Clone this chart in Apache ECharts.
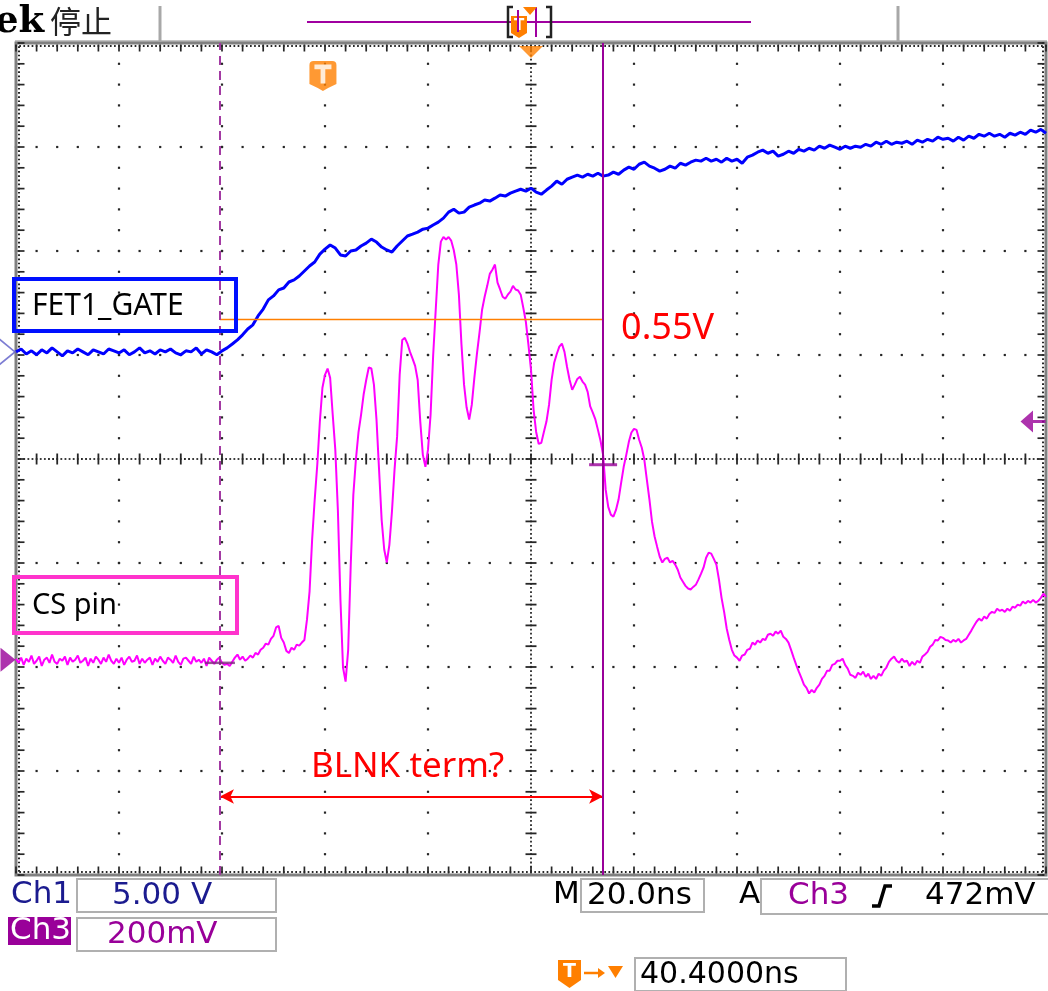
<!DOCTYPE html>
<html><head><meta charset="utf-8">
<script src="https://cdn.jsdelivr.net/npm/echarts@6/dist/echarts.min.js"></script>
<style>html,body{margin:0;padding:0;background:#fff;overflow:hidden}#c{width:1048px;height:991px}</style>
</head><body><div id="c"></div>
<script>
// ---------------- scope settings ----------------
const timePerDivNs = 20;
const horizDivs = 10;
const vertDivs = 8;
const screenStartNs = -100;          // left edge, relative to the expansion point (screen centre)
const triggerTimeNs = -40.4;
const ch1VoltsPerDiv = 5;
const ch3MvPerDiv = 200;
const ch1PositionDiv = 1.03;
const ch3PositionDiv = -1.93;
const triggerLevelMv = 472;
const triggerMarkerMv = 458;
const cursorTimesNs = [-60.4, 14.0];
const cursorLevelsMv = [-6, 375];
const thresholdMv = 654;
const thresholdLabel = '0.55V';
const blankArrowMv = -263;
const blankLabel = 'BLNK term?';
const traceLabels = ['FET1_GATE', 'CS pin'];
const ch1SampleStepNs = 1.0;
const ch3SampleStepNs = 0.5;

// CH1 (FET1_GATE), volts, one sample per 1 ns from the left edge
const ch1Volts = [
 0, 0.14, -0.10, 0.05, -0.14, 0.10, -0.05, 0.19, 0, -0.19,
 0.05, -0.05, 0.14, 0, -0.14, 0.10, 0, -0.10, 0.14, 0.05,
 -0.05, 0.10, -0.14, 0, 0.19, -0.05, 0.05, -0.10, 0.10, 0,
 0.14, -0.05, -0.14, 0.05, 0, 0.19, -0.10, 0.10, 0, -0.14,
 0.05, 0.19, 0.38, 0.58, 0.82, 1.10, 1.30, 1.73, 2.06, 2.50,
 2.69, 2.98, 3.07, 3.36, 3.46, 3.65, 3.89, 4.13, 4.32, 4.70,
 4.94, 5.14, 4.99, 4.66, 4.61, 4.85, 4.90, 5.09, 5.23, 5.42,
 5.28, 5.04, 4.90, 4.80, 5.09, 5.33, 5.57, 5.66, 5.76, 5.90,
 5.95, 6.10, 6.24, 6.43, 6.72, 6.86, 6.67, 6.72, 6.96, 7.06,
 7.15, 7.30, 7.25, 7.39, 7.54, 7.49, 7.63, 7.73, 7.82, 7.73,
 7.87, 7.68, 7.58, 7.78, 7.97, 8.21, 8.06, 8.30, 8.40, 8.50,
 8.40, 8.54, 8.45, 8.59, 8.45, 8.50, 8.64, 8.54, 8.74, 8.88,
 8.78, 9.02, 9.12, 8.93, 8.83, 8.69, 8.78, 8.93, 8.83, 9.07,
 8.98, 9.12, 9.22, 9.17, 9.31, 9.17, 9.26, 9.12, 9.31, 9.17,
 9.26, 9.07, 9.36, 9.46, 9.60, 9.70, 9.55, 9.65, 9.41, 9.50,
 9.65, 9.55, 9.74, 9.65, 9.79, 9.70, 9.89, 9.79, 9.94, 9.84,
 9.74, 9.89, 9.79, 9.89, 9.84, 9.98, 9.89, 10.08, 9.98, 10.13,
 9.98, 10.08, 10.03, 10.13, 9.98, 10.18, 10.08, 10.22, 10.13, 10.32,
 10.22, 10.27, 10.13, 10.32, 10.18, 10.37, 10.27, 10.46, 10.37, 10.51,
 10.37, 10.46, 10.32, 10.51, 10.42, 10.56, 10.46, 10.66, 10.56, 10.70,
 10.51
];

// CH3 (CS pin), millivolts, one sample per 0.5 ns from the left edge
const ch3Millivolts = [
 2, -6, 4, -10, 2, -4, 8, -8, -2, 6,
 -12, 0, 4, -6, 10, -4, -8, 2, -2, 6,
 -10, 4, -4, 0, 8, -6, -2, 4, -12, 2,
 -6, 6, 0, -8, 4, -4, 10, -2, -8, 2,
 -6, 4, -10, 0, 6, -4, -2, 8, -8, 2,
 -6, 0, 4, -10, 2, -4, 6, -2, -8, 4,
 0, -6, 8, -4, -10, 2, 4, -2, -8, 6,
 -4, 0, -6, 2, -12, 4, -2, -8, 0, 4,
 -6, -10, -8, -12, -4, 4, 10, 0, 6, -2,
 2, 8, 4, 13, 10, 19, 23, 31, 29, 40,
 46, 62, 65, 42, 33, 17, 13, 23, 19, 29,
 27, 33, 38, 77, 131, 231, 308, 375, 458, 523,
 548, 560, 542, 471, 404, 288, 115, -15, -42, 19,
 183, 317, 385, 437, 471, 510, 538, 562, 560, 529,
 462, 365, 269, 212, 187, 221, 285, 365, 429, 548,
 615, 619, 608, 592, 579, 565, 538, 458, 394, 371,
 404, 471, 585, 673, 760, 804, 813, 808, 813, 806,
 788, 760, 702, 606, 529, 485, 462, 490, 542, 588,
 629, 673, 698, 719, 742, 750, 760, 725, 712, 698,
 694, 702, 708, 719, 712, 710, 702, 677, 650, 606,
 558, 481, 438, 415, 417, 438, 458, 490, 538, 571,
 588, 602, 608, 592, 563, 538, 519, 529, 540, 544,
 535, 529, 515, 487, 475, 462, 442, 421, 394, 327,
 294, 279, 275, 288, 308, 340, 371, 394, 419, 437,
 444, 442, 423, 408, 385, 346, 308, 265, 237, 217,
 198, 187, 194, 196, 187, 190, 183, 173, 158, 150,
 142, 137, 135, 140, 144, 154, 165, 177, 196, 206,
 204, 194, 183, 154, 119, 92, 60, 38, 19, 8,
 4, -2, 8, 10, 19, 21, 33, 29, 37, 33,
 40, 38, 48, 50, 46, 54, 50, 56, 44, 40,
 33, 19, 4, -10, -23, -35, -48, -54, -65, -58,
 -63, -54, -48, -37, -31, -21, -21, -10, -8, -2,
 -2, 2, -10, -17, -29, -31, -35, -25, -29, -23,
 -33, -27, -37, -31, -37, -27, -31, -21, -15, -4,
 2, 6, -2, -6, 2, -4, -2, -12, -4, -10,
 -2, -6, 6, 10, 15, 25, 29, 38, 37, 44,
 42, 38, 37, 33, 38, 35, 40, 33, 37, 40,
 48, 56, 65, 73, 79, 75, 83, 79, 88, 92,
 90, 98, 94, 96, 92, 98, 94, 102, 100, 106,
 104, 112, 108, 113, 110, 115, 110, 113, 119, 127,
 121
];

// ---------------- styling ----------------
const BLUE = '#0000ff', MAGENTA = '#ff00ff', PURPLE = '#990099', ORANGE = '#ff7f00', NAVY = '#1b1b8f', RED = '#ff0000';
const READ_FONT = '"DejaVu Sans", sans-serif';
const NOTE_FONT = '"Noto Sans", "Open Sans", sans-serif';
const tMax = screenStartNs + horizDivs * timePerDivNs;
const halfV = vertDivs / 2;

function renderGraticule(params, api) {
  const ch = [];
  const dot = (x, y, w, h, fill) => ch.push({type: 'rect', shape: {x: x - w / 2, y: y - h / 2, width: w, height: h}, style: {fill: fill || '#262626'}});
  const P = (t, d) => api.coord([t, d]);
  const minorT = timePerDivNs / 5, minorD = 0.2;
  for (let k = 1; k < horizDivs; k++) {
    const t = screenStartNs + k * timePerDivNs;
    if (Math.abs(t) < 1e-9) continue;
    for (let m = 0; m <= vertDivs * 5; m++) { const p = P(t, -halfV + m * minorD); dot(p[0], p[1], 2.2, 2.2); }
  }
  for (let k = 1; k < vertDivs; k++) {
    const d = -halfV + k;
    if (d === 0) continue;
    for (let m = 0; m <= horizDivs * 5; m++) { const p = P(screenStartNs + m * minorT, d); dot(p[0], p[1], 2.2, 2.2); }
  }
  // centre cross: dense dots + cross ticks
  for (let m = 0; m <= vertDivs * 25; m++) { const p = P(0, -halfV + m * 0.04); dot(p[0], p[1], 1.8, 1.8); }
  for (let m = 0; m <= vertDivs * 5; m++) { const p = P(0, -halfV + m * minorD); dot(p[0], p[1], 11, 1.8); }
  for (let m = 0; m <= horizDivs * 25; m++) { const p = P(screenStartNs + m * minorT / 5, 0); dot(p[0], p[1], 1.8, 1.8); }
  for (let m = 0; m <= horizDivs * 5; m++) { const p = P(screenStartNs + m * minorT, 0); dot(p[0], p[1], 1.8, 11); }
  // frame
  const a = P(screenStartNs, halfV), b = P(tMax, -halfV);
  ch.push({type: 'rect', shape: {x: a[0] - 1, y: a[1] - 3, width: b[0] - a[0] + 2, height: 3}, style: {fill: '#c4c4c4'}});
  ch.push({type: 'rect', shape: {x: a[0], y: a[1], width: b[0] - a[0], height: b[1] - a[1]}, style: {fill: 'transparent', stroke: '#808080', lineWidth: 3}});
  for (let m = 0; m <= horizDivs * 25; m++) { const x = P(screenStartNs + m * minorT / 5, 0)[0]; dot(x, a[1] + 3, 1.7, 2); dot(x, b[1] - 3, 1.7, 2); }
  for (let m = 0; m <= horizDivs * 5; m++) { const x = P(screenStartNs + m * minorT, 0)[0]; dot(x, a[1] + 5, 1.7, 7); dot(x, b[1] - 5, 1.7, 7); }
  for (let m = 0; m <= vertDivs * 25; m++) { const y = P(0, -halfV + m * 0.04)[1]; dot(a[0] + 3, y, 2, 1.7); dot(b[0] - 3, y, 2, 1.7); }
  for (let m = 0; m <= vertDivs * 5; m++) { const y = P(0, -halfV + m * minorD)[1]; dot(a[0] + 5, y, 7, 1.7); dot(b[0] - 5, y, 7, 1.7); }
  return {type: 'group', children: ch};
}

const txt = (text, x, y, color, size, family, weight, align) => ({
  type: 'text', x: x, y: y, silent: true, z: 20,
  style: {text: text, fill: color, fontSize: size, fontFamily: family, fontWeight: weight || 'normal',
    textAlign: align || 'left', textVerticalAlign: 'middle', verticalAlign: 'middle'}
});
const box = (x, y, w, h, stroke, lw, fill) => ({
  type: 'rect', silent: true, z: 19, shape: {x: x, y: y, width: w, height: h},
  style: {fill: fill || 'transparent', stroke: stroke, lineWidth: lw}
});
const line = (pts, color, lw) => ({type: 'polyline', silent: true, z: 20, shape: {points: pts}, style: {stroke: color, lineWidth: lw, fill: null}});
const poly = (pts, color) => ({type: 'polygon', silent: true, z: 20, shape: {points: pts}, style: {fill: color}});

const chart = echarts.init(document.getElementById('c'), null, {renderer: 'canvas'});
const option = {
  animation: false,
  backgroundColor: '#ffffff',
  grid: {left: 16, top: 43, width: 1030, height: 832, show: false},
  xAxis: [{type: 'value', min: screenStartNs, max: tMax, show: false}],
  yAxis: [
    {type: 'value', min: -halfV, max: halfV, show: false},
    {type: 'value', min: (-halfV - ch1PositionDiv) * ch1VoltsPerDiv, max: (halfV - ch1PositionDiv) * ch1VoltsPerDiv, show: false},
    {type: 'value', min: (-halfV - ch3PositionDiv) * ch3MvPerDiv, max: (halfV - ch3PositionDiv) * ch3MvPerDiv, show: false}
  ],
  series: [
    {type: 'custom', name: 'graticule', coordinateSystem: 'cartesian2d', xAxisIndex: 0, yAxisIndex: 0,
      data: [[0, 0]], renderItem: renderGraticule, silent: true, clip: false, z: 1},
    {type: 'line', name: 'CH3', xAxisIndex: 0, yAxisIndex: 2,
      data: ch3Millivolts.map((v, j) => [screenStartNs + j * ch3SampleStepNs, v]),
      showSymbol: false, symbol: 'none', silent: true, z: 3,
      lineStyle: {color: MAGENTA, width: 2}, itemStyle: {color: MAGENTA},
      markLine: {silent: true, animation: false, symbol: 'none', data: [
        [{coord: [cursorTimesNs[0], thresholdMv], itemStyle: {color: ORANGE}, lineStyle: {color: ORANGE, width: 1.3, type: 'solid', opacity: 1},
          label: {show: true, position: 'end', formatter: thresholdLabel, color: RED, fontSize: 36, fontFamily: NOTE_FONT, distance: 18, offset: [0, 9]}},
         {coord: [cursorTimesNs[1], thresholdMv]}],
        [{coord: [cursorTimesNs[0], blankArrowMv], symbol: 'arrow', symbolSize: [11, 14], itemStyle: {color: RED},
          lineStyle: {color: RED, width: 2, type: 'solid'},
          label: {show: true, position: 'insideMiddleTop', formatter: blankLabel, color: RED, fontSize: 35, fontFamily: NOTE_FONT, distance: 12, offset: [-4, 0]}},
         {coord: [cursorTimesNs[1], blankArrowMv], symbol: 'arrow', symbolSize: [11, 14]}]
      ]}
    },
    {type: 'line', name: 'CH1', xAxisIndex: 0, yAxisIndex: 1,
      data: ch1Volts.map((v, i) => [screenStartNs + i * ch1SampleStepNs, v]),
      showSymbol: false, symbol: 'none', silent: true, z: 4,
      lineStyle: {color: BLUE, width: 3}, itemStyle: {color: BLUE}},
    {type: 'scatter', name: 'cursors', xAxisIndex: 0, yAxisIndex: 2, z: 5, silent: true, clip: false,
      data: [
        {value: [cursorTimesNs[0], cursorLevelsMv[0]], itemStyle: {color: '#7a2a7a'}, symbolSize: [30, 2.5]},
        {value: [cursorTimesNs[1], cursorLevelsMv[1]], itemStyle: {color: PURPLE}, symbolSize: [28, 3]}
      ],
      symbol: 'rect',
      markLine: {silent: true, animation: false, symbol: 'none', label: {show: false}, data: [
        {xAxis: cursorTimesNs[0], lineStyle: {color: '#a33aa3', width: 2, type: [9, 6]}},
        {xAxis: cursorTimesNs[1], lineStyle: {color: PURPLE, width: 2, type: 'solid'}}
      ]}
    },
    {type: 'scatter', name: 'ch1-ground', xAxisIndex: 0, yAxisIndex: 1, z: 6, silent: true, clip: false,
      data: [[screenStartNs, 0]], symbol: 'path://M0,0 L12,11 L0,22 Z', symbolSize: [16, 26], symbolOffset: [-9, 0],
      itemStyle: {color: 'rgba(0,0,0,0)', borderColor: '#5c5cc8', borderWidth: 1.5}},
    {type: 'scatter', name: 'ch3-ground', xAxisIndex: 0, yAxisIndex: 2, z: 6, silent: true, clip: false,
      data: [[screenStartNs, 0]], symbol: 'path://M0,0 L12,11 L0,22 Z', symbolSize: [15, 24], symbolOffset: [-8, 0],
      itemStyle: {color: PURPLE}},
    {type: 'scatter', name: 'trigger-level', xAxisIndex: 0, yAxisIndex: 2, z: 6, silent: true, clip: false,
      data: [[tMax, triggerMarkerMv]], symbol: 'path://M0,11 L12,0 L12,9.5 L24,9.5 L24,12.5 L12,12.5 L12,22 Z',
      symbolSize: [25, 22], symbolOffset: [-13, 0], itemStyle: {color: PURPLE}},
    {type: 'scatter', name: 'trigger-pos', xAxisIndex: 0, yAxisIndex: 0, z: 6, silent: true, clip: false,
      data: [[triggerTimeNs, halfV]], symbol: 'path://M4,0 L22,0 Q26,0 26,4 L26,23 L18,27 L13,30 L8,27 L0,23 L0,4 Q0,0 4,0 Z',
      symbolSize: [27, 30], symbolOffset: [0, 33], itemStyle: {color: ORANGE}},
    {type: 'scatter', name: 'trigger-pos-letter', xAxisIndex: 0, yAxisIndex: 0, z: 7, silent: true, clip: false,
      data: [[triggerTimeNs, halfV]], symbol: 'path://M0,0 L18,0 L18,5 L11.5,5 L11.5,20 L6.5,20 L6.5,5 L0,5 Z',
      symbolSize: [17, 19], symbolOffset: [0, 31], itemStyle: {color: '#ffffff'}},
    {type: 'scatter', name: 'expansion-point', xAxisIndex: 0, yAxisIndex: 0, z: 6, silent: true, clip: false,
      data: [[0, halfV]], symbol: 'path://M0,0 L20,0 L10,10 Z', symbolSize: [24, 12], symbolOffset: [0, 9], itemStyle: {color: ORANGE}}
  ],
  graphic: [
    // header
    txt('ek', -5, 22, '#000000', 37, '"DejaVu Serif", serif', 'bold'),
    txt('停止', 50, 21, '#222222', 31, '"Noto Sans CJK SC", sans-serif'),
    line([[160, 6], [160, 42]], '#a8a8a8', 3),
    line([[898, 6], [898, 42]], '#a8a8a8', 3),
    line([[307, 22], [751, 22]], '#a000a0', 2),
    line([[513, 7], [508, 7], [508, 37], [513, 37]], '#222222', 2.5),
    line([[546, 7], [551, 7], [551, 37], [546, 37]], '#222222', 2.5),
    poly([[511, 16], [527, 16], [527, 33], [519, 38], [511, 33]], ORANGE),
    txt('T', 519, 26, '#ffffff', 15, READ_FONT, 'bold', 'center'),
    line([[518, 10], [518, 32]], '#a000a0', 2),
    line([[536, 7], [536, 37]], '#a000a0', 2),
    poly([[523, 7], [537, 7], [530, 15]], ORANGE),
    // trace annotations
    box(14, 279, 222, 52, '#0010ff', 4),
    txt(traceLabels[0], 32, 306, '#000000', 30, NOTE_FONT),
    box(14, 577, 223, 56, '#ff33cc', 4),
    txt(traceLabels[1], 32, 606, '#000000', 29, NOTE_FONT),
    // readouts
    txt('Ch1', 11, 895, NAVY, 31, READ_FONT),
    box(77, 879, 199, 33, '#b0b0b0', 2, '#ffffff'),
    txt(ch1VoltsPerDiv.toFixed(2) + ' V', 112, 896, NAVY, 31, READ_FONT),
    {type: 'rect', silent: true, z: 19, shape: {x: 8, y: 917, width: 63, height: 28}, style: {fill: PURPLE}},
    txt('Ch3', 10, 931, '#ffffff', 31, READ_FONT),
    box(77, 918, 199, 33, '#b0b0b0', 2, '#ffffff'),
    txt(ch3MvPerDiv + 'mV', 107, 935, PURPLE, 31, READ_FONT),
    txt('M', 553, 895, '#000000', 31, READ_FONT),
    box(581, 879, 123, 33, '#b0b0b0', 2, '#ffffff'),
    txt(timePerDivNs.toFixed(1) + 'ns', 587, 896, '#000000', 31, READ_FONT),
    txt('A', 739, 895, '#000000', 31, READ_FONT),
    box(761, 879, 300, 35, '#b0b0b0', 2, '#ffffff'),
    txt('Ch3', 788, 896, PURPLE, 31, READ_FONT),
    line([[872, 906], [879, 906], [885, 886], [892, 886]], '#000000', 3.5),
    txt(triggerLevelMv + 'mV', 925, 896, '#000000', 31, READ_FONT),
    poly([[558, 960], [581, 960], [581, 980], [569.5, 988], [558, 980]], ORANGE),
    txt('T', 569.5, 972, '#ffffff', 19, READ_FONT, 'bold', 'center'),
    line([[584, 973], [599, 973]], ORANGE, 2.5),
    poly([[598, 968], [605, 973], [598, 978]], ORANGE),
    poly([[608, 966], [623, 966], [615.5, 978]], ORANGE),
    box(635, 958, 211, 33, '#b0b0b0', 2, '#ffffff'),
    txt(Math.abs(triggerTimeNs).toFixed(4) + 'ns', 640, 975, '#000000', 30, READ_FONT)
  ]
};
chart.setOption(option);
</script>
</body></html>
